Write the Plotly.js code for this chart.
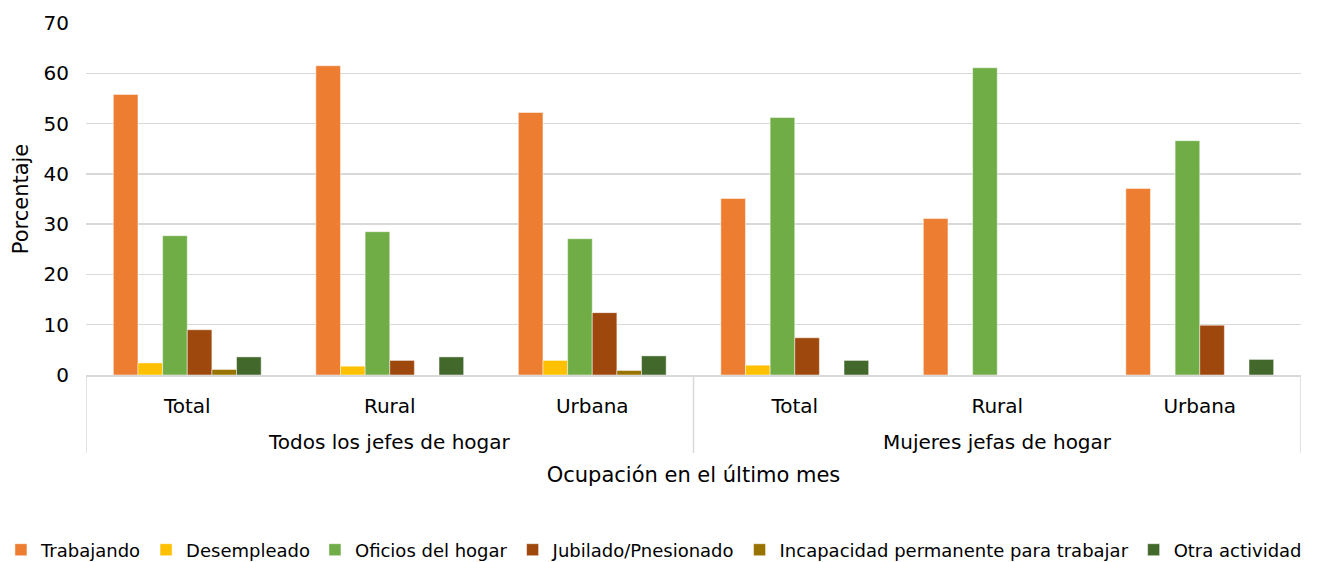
<!DOCTYPE html>
<html><head><meta charset="utf-8">
<script src="https://cdn.plot.ly/plotly-3.0.1.min.js"></script>
<style>body{margin:0;padding:0;background:#fff}</style>
</head><body>
<div id="chart" style="width:1321px;height:562px"></div>
<script>
const groups = ["Todos los jefes de hogar","Todos los jefes de hogar","Todos los jefes de hogar","Mujeres jefas de hogar","Mujeres jefas de hogar","Mujeres jefas de hogar"];
const zones = ["Total","Rural","Urbana","Total","Rural","Urbana"];
const seriesNames = ["Trabajando","Desempleado","Oficios del hogar","Jubilado/Pnesionado","Incapacidad permanente para trabajar","Otra actividad"];
const trabajando  = [55.8, 61.5, 52.2, 35.1, 31.1, 37.1];
const desempleado = [2.4, 1.75, 2.9, 1.95, 0, 0];
const oficios     = [27.7, 28.5, 27.1, 51.2, 61.1, 46.6];
const jubilado    = [9.0, 2.9, 12.4, 7.4, 0, 9.9];
const incapacidad = [1.1, 0, 0.9, 0, 0, 0];
const otra        = [3.6, 3.6, 3.8, 2.9, 0, 3.1];
const colors = ["#ED7D31","#FFC000","#70AD47","#9E480E","#997300","#43682B"];
const values = [trabajando, desempleado, oficios, jubilado, incapacidad, otra];

const font = "Verdana, 'DejaVu Sans', sans-serif";
const idx = zones.map((_, i) => i);

const traces = values.map((v,i)=>({
  type:"bar", name: seriesNames[i], x: idx, y: v,
  marker:{color:colors[i], line:{color:"rgba(255,255,255,0.6)", width:0.8}},
  hoverinfo:"y"
}));

// group labels & divider positions derived from the group array
const groupNames = [...new Set(groups)];
const annotations = groupNames.map(g => {
  const ii = idx.filter(i => groups[i] === g);
  return {text:g, xref:"x", yref:"paper", x:(ii[0]+ii[ii.length-1])/2, y:0,
    yanchor:"middle", yshift:-67, showarrow:false, font:{size:20, family:font, color:"#000"}};
});
const bounds = [-0.5];
groupNames.forEach(g => { const ii = idx.filter(i => groups[i] === g); bounds.push(ii[ii.length-1]+0.5); });
const plotH = 562 - 23 - 187;
const shapes = bounds.map(b => ({type:"line", xref:"x", yref:"paper", x0:b, x1:b, y0:0, y1:-78/plotH,
  line:{color:"#d9d9d9", width:1.5}}));

const layout = {
  width:1321, height:562,
  margin:{l:86, r:20, t:23, b:187, autoexpand:false},
  paper_bgcolor:"#fff", plot_bgcolor:"#fff",
  font:{family:font, size:20, color:"#000"},
  barmode:"group", bargap:0.27, bargroupgap:0,
  showlegend:true,
  legend:{orientation:"h", x:-0.07, xanchor:"left", y:-(550-375)/plotH, yanchor:"middle",
    font:{size:18}, traceorder:"normal", itemwidth:30, bgcolor:"rgba(0,0,0,0)"},
  annotations: annotations,
  shapes: shapes,
  xaxis:{range:[-0.5, 5.5], tickmode:"array", tickvals: idx, ticktext: zones,
    showline:true, linecolor:"#d9d9d9", linewidth:1.5, showgrid:false, zeroline:false,
    tickfont:{size:20}, ticks:"", ticklabelstandoff:12, automargin:false,
    title:{text:"Ocupación en el último mes", font:{size:21}, standoff:51}},
  yaxis:{range:[0,70], dtick:10, showgrid:true, gridcolor:"#d9d9d9", gridwidth:1.5,
    zeroline:false, showline:false, tickfont:{size:20}, ticks:"", ticklabelstandoff:16, automargin:false,
    title:{text:"Porcentaje", font:{size:21}, standoff:9}}
};
Plotly.newPlot("chart", traces, layout, {displayModeBar:false, staticPlot:true});
</script>
</body></html>
